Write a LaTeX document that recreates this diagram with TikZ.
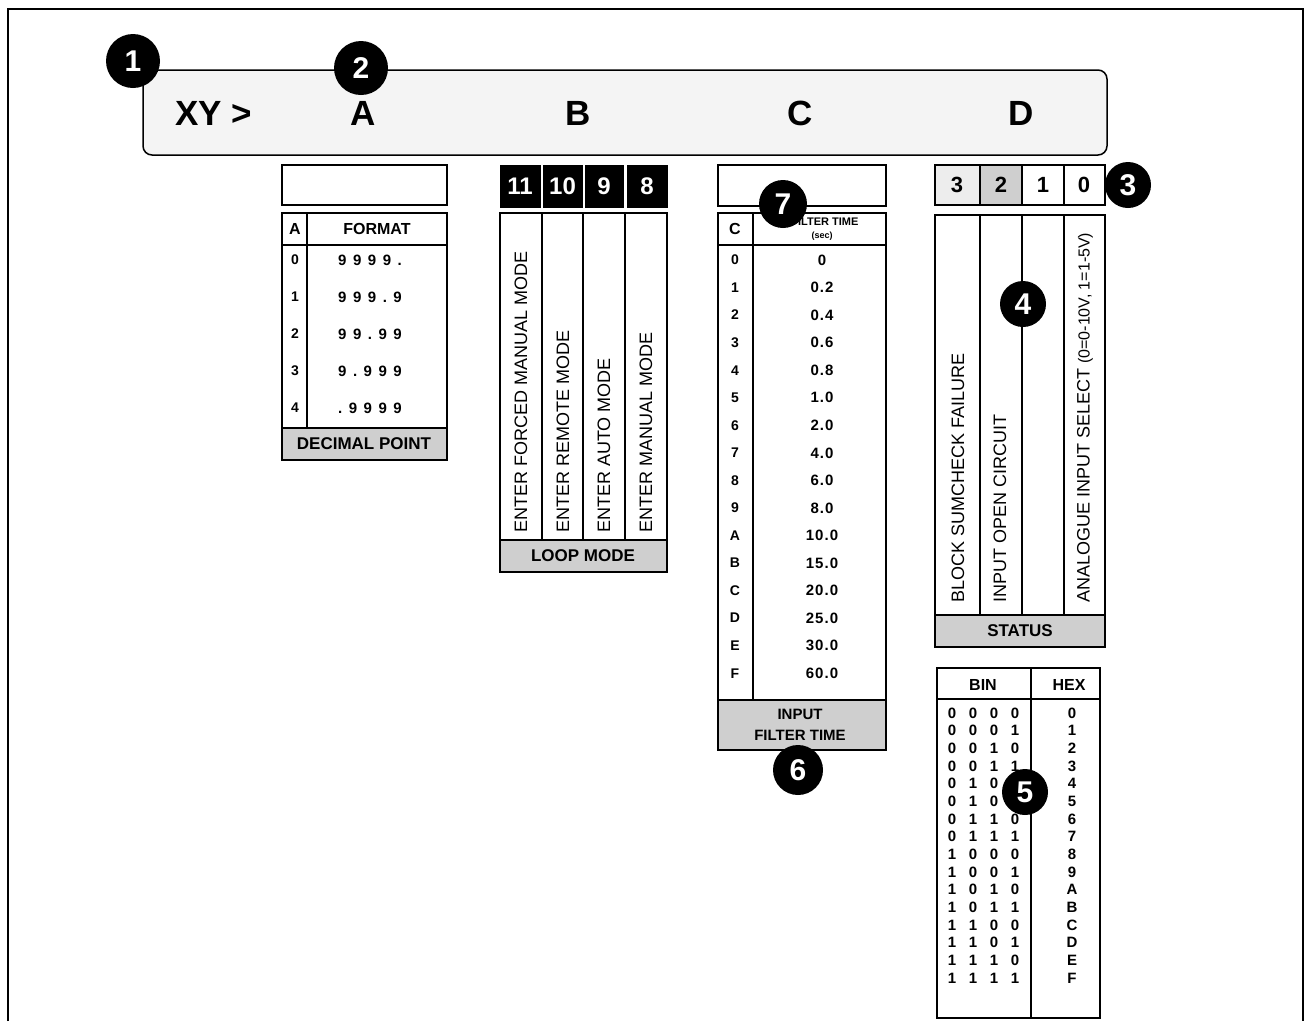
\documentclass[tikz,border=0pt]{standalone}
\usepackage{fontspec}
\setmainfont{Liberation Sans}
\newfontfamily\widefont[LetterSpace=7]{Liberation Sans}
\newcommand\fsz[1]{\fontsize{#1}{#1}\selectfont}
\newcommand\gk{\kern6.5pt}
\begin{document}
\begin{tikzpicture}[x=1pt,y=-1pt]
\useasboundingbox (0,0) rectangle (1306,1021);
\tikzset{
 ln/.style={line width=1.5pt},
 lbl/.style={fill=gray!38},
 bd/.style={font=\bfseries\fsz{14}},
 bw/.style={font=\widefont\bfseries\fsz{15}},
 hd/.style={font=\bfseries\fsz{16}},
 lb/.style={font=\bfseries\fsz{17}},
 vt/.style={rotate=90, anchor=west, inner sep=0pt, font=\fsz{18}},
 badge/.style={circle, fill=black, text=white, inner sep=0pt, minimum size=#1, font=\bfseries\fsz{30}},
 big/.style={font=\bfseries\fsz{35}},
 blk/.style={fill=black, draw=black},
}
% outer frame
\draw[line width=1.2pt] (8,1021) -- (8,9) -- (1303,9) -- (1303,1021);
% display bar
\draw[ln, fill=gray!9, rounded corners=9pt] (143,70) rectangle (1107,155);
\node[big] (xy) at (214,113) {XY >};
\node[big] (la) at (363,113) {A};
\node[big] (lbB) at (578,113) {B};
\node[big] (lc) at (800,113) {C};
\node[big] (ld) at (1021,113) {D};
\node[badge=54pt] (b1) at (133,61) {1};
\node[badge=54pt] (b2) at (361,68) {2};

% ---- table A: decimal point
\draw[ln] (282,165) rectangle (447,205);
\draw[ln] (282,213) rectangle (447,460);
\draw[ln, lbl] (282,428) rectangle (447,460);
\draw[ln] (282,245) -- (447,245);
\draw[ln] (307,213) -- (307,428);
\node[hd] (ah) at (295,229) {A};
\node[hd] (fh) at (377,229) {FORMAT};
\foreach \c/\v [count=\i from 0] in {0/{9\gk9\gk9\gk9\gk.},1/{9\gk9\gk9\gk.\gk9},2/{9\gk9\gk.\gk9\gk9},3/{9\gk.\gk9\gk9\gk9},4/{.\gk9\gk9\gk9\gk9}}{
  \node[bd] (ar\i) at (295,{260+37*\i}) {\c};
  \node[font=\bfseries\fsz{15}] (av\i) at (370,{260+37*\i}) {\v};
}
\node[lb] (dp) at (364,444) {DECIMAL POINT};

% ---- loop mode
\draw[blk] (500,165) rectangle (540,207);
\draw[blk] (543,165) rectangle (582,207);
\draw[blk] (585,165) rectangle (623,207);
\draw[blk] (627,165) rectangle (667,207);
\node[text=white, font=\bfseries\fsz{24}] (m11) at (520,186) {11};
\node[text=white, font=\bfseries\fsz{24}] (m10) at (562.5,186) {10};
\node[text=white, font=\bfseries\fsz{24}] (m9) at (604,186) {9};
\node[text=white, font=\bfseries\fsz{24}] (m8) at (647,186) {8};
\draw[ln] (500,213) rectangle (667,572);
\draw[ln, lbl] (500,540) rectangle (667,572);
\draw[ln] (542,213) -- (542,540);
\draw[ln] (583,213) -- (583,540);
\draw[ln] (625,213) -- (625,540);
\node[vt] (l1) at (521,533) {ENTER FORCED MANUAL MODE};
\node[vt] (l2) at (563,533) {ENTER REMOTE MODE};
\node[vt] (l3) at (604,533) {ENTER AUTO MODE};
\node[vt] (l4) at (646,533) {ENTER MANUAL MODE};
\node[lb] (lm) at (583,556) {LOOP MODE};

% ---- input filter time
\draw[ln] (718,165) rectangle (886,206);
\draw[ln] (718,213) rectangle (886,750);
\draw[ln, lbl] (718,700) rectangle (886,750);
\draw[ln] (718,245) -- (886,245);
\draw[ln] (753,213) -- (753,700);
\node[hd] (ch) at (735,229) {C};
\node[font=\bfseries\fsz{11}, anchor=east] (fth) at (862,222) {FILTER TIME};
\node[font=\bfseries\fsz{9}] (fts) at (822,236) {(sec)};
\foreach \c/\v [count=\i from 0] in {0/0,1/0.2,2/0.4,3/0.6,4/0.8,5/1.0,6/2.0,7/4.0,8/6.0,9/8.0,A/10.0,B/15.0,C/20.0,D/25.0,E/30.0,F/60.0}{
  \node[bd] (cr\i) at (735,{260+27.55*\i}) {\c};
  \node[bw] (cv\i) at (822,{260+27.55*\i}) {\v};
}
\node[font=\bfseries\fsz{15}] (ip) at (800,714) {INPUT};
\node[font=\bfseries\fsz{15}] (ft) at (800,735) {FILTER TIME};
\node[badge=48pt] (b7) at (783,204) {7};
\node[badge=50pt] (b6) at (798,770) {6};

% ---- status
\draw[ln, fill=gray!14] (935,165) rectangle (980,205);
\draw[ln, fill=gray!38] (980,165) rectangle (1022,205);
\draw[ln] (1022,165) rectangle (1064,205);
\draw[ln] (1064,165) rectangle (1105,205);
\node[font=\bfseries\fsz{22}] (s3) at (957,185) {3};
\node[font=\bfseries\fsz{22}] (s2) at (1001,185) {2};
\node[font=\bfseries\fsz{22}] (s1) at (1043,185) {1};
\node[font=\bfseries\fsz{22}] (s0) at (1084,185) {0};
\draw[ln] (935,215) rectangle (1105,647);
\draw[ln, lbl] (935,615) rectangle (1105,647);
\draw[ln] (980,215) -- (980,615);
\draw[ln] (1022,215) -- (1022,615);
\draw[ln] (1064,215) -- (1064,615);
\node[vt] (t1) at (958,603) {BLOCK SUMCHECK FAILURE};
\node[vt] (t2) at (1000,603) {INPUT OPEN CIRCUIT};
\node[vt] (t4) at (1085,603) {ANALOGUE INPUT SELECT {\fsz{16}(0=0-10V, 1=1-5V)}};
\node[lb] (st) at (1020,631) {STATUS};
\node[badge=46pt] (b3) at (1128,185) {3};
\node[badge=46pt] (b4) at (1023,304) {4};

% ---- bin / hex
\draw[ln] (937,668) rectangle (1100,1018);
\draw[ln] (937,699) -- (1100,699);
\draw[ln] (1031,668) -- (1031,1018);
\node[hd] (bh) at (983,685) {BIN};
\node[hd] (hh) at (1069,685) {HEX};
\foreach \a/\b/\c/\d/\h [count=\i from 0] in {0/0/0/0/0,0/0/0/1/1,0/0/1/0/2,0/0/1/1/3,0/1/0/0/4,0/1/0/1/5,0/1/1/0/6,0/1/1/1/7,1/0/0/0/8,1/0/0/1/9,1/0/1/0/A,1/0/1/1/B,1/1/0/0/C,1/1/0/1/D,1/1/1/0/E,1/1/1/1/F}{
  \node[font=\bfseries\fsz{15}] (ba\i) at (952,{713+17.67*\i}) {\a};
  \node[font=\bfseries\fsz{15}] (bb\i) at (973,{713+17.67*\i}) {\b};
  \node[font=\bfseries\fsz{15}] (bc\i) at (994,{713+17.67*\i}) {\c};
  \node[font=\bfseries\fsz{15}] (bdd\i) at (1015,{713+17.67*\i}) {\d};
  \node[font=\bfseries\fsz{15}] (hx\i) at (1072,{713+17.67*\i}) {\h};
}
\node[badge=46pt] (b5) at (1025,792) {5};
\end{tikzpicture}
\end{document}
